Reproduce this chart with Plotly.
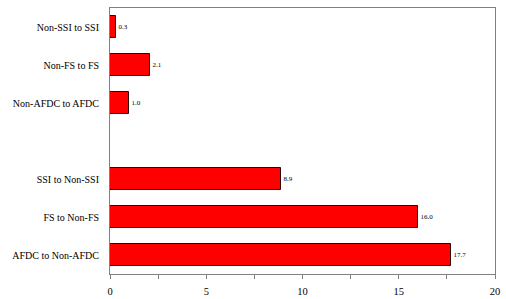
import plotly.graph_objects as go

categories = ["AFDC to Non-AFDC", "FS to Non-FS", "SSI to Non-SSI", "",
              "Non-AFDC to AFDC", "Non-FS to FS", "Non-SSI to SSI"]
values = [17.7, 16.0, 8.9, None, 1.0, 2.1, 0.3]
x_ticks = [0, 5, 10, 15, 20]

pos = list(range(len(categories)))
bar_pos = [p for p, v in zip(pos, values) if v is not None]
bar_vals = [v for v in values if v is not None]

fig = go.Figure(go.Bar(
    x=bar_vals, y=bar_pos, orientation="h",
    marker=dict(color="#FF0000", line=dict(color="#300000", width=1)),
    width=0.58,
    text=[f"{v:.1f}" for v in bar_vals],
    textposition="outside",
    textfont=dict(family="Liberation Serif", size=7, color="black"),
    cliponaxis=False,
))

fig.update_layout(
    width=506, height=299,
    margin=dict(l=110, r=11, t=8, b=25, autoexpand=False),
    paper_bgcolor="white", plot_bgcolor="white",
    showlegend=False,
    font=dict(family="Liberation Serif", size=10, color="black"),
    bargap=0,
)
fig.update_xaxes(
    range=[0, 20], tickvals=x_ticks, ticks="outside", ticklen=4,
    tickcolor="#808080", showgrid=False, zeroline=False,
    showline=True, linecolor="#808080", linewidth=1, mirror=True,
    tickfont=dict(size=10.5), automargin=False, ticklabelstandoff=3,
    minor=dict(dtick=2.5, ticks="outside", ticklen=4, tickcolor="#808080"),
)
fig.update_yaxes(
    range=[-0.5, 6.5], tickvals=pos, ticktext=categories,
    ticks="", showgrid=False, zeroline=False,
    showline=True, linecolor="#808080", linewidth=1, mirror=True,
    ticklabelstandoff=8, tickfont=dict(size=10), automargin=False,
)

fig.write_html("out.html")
